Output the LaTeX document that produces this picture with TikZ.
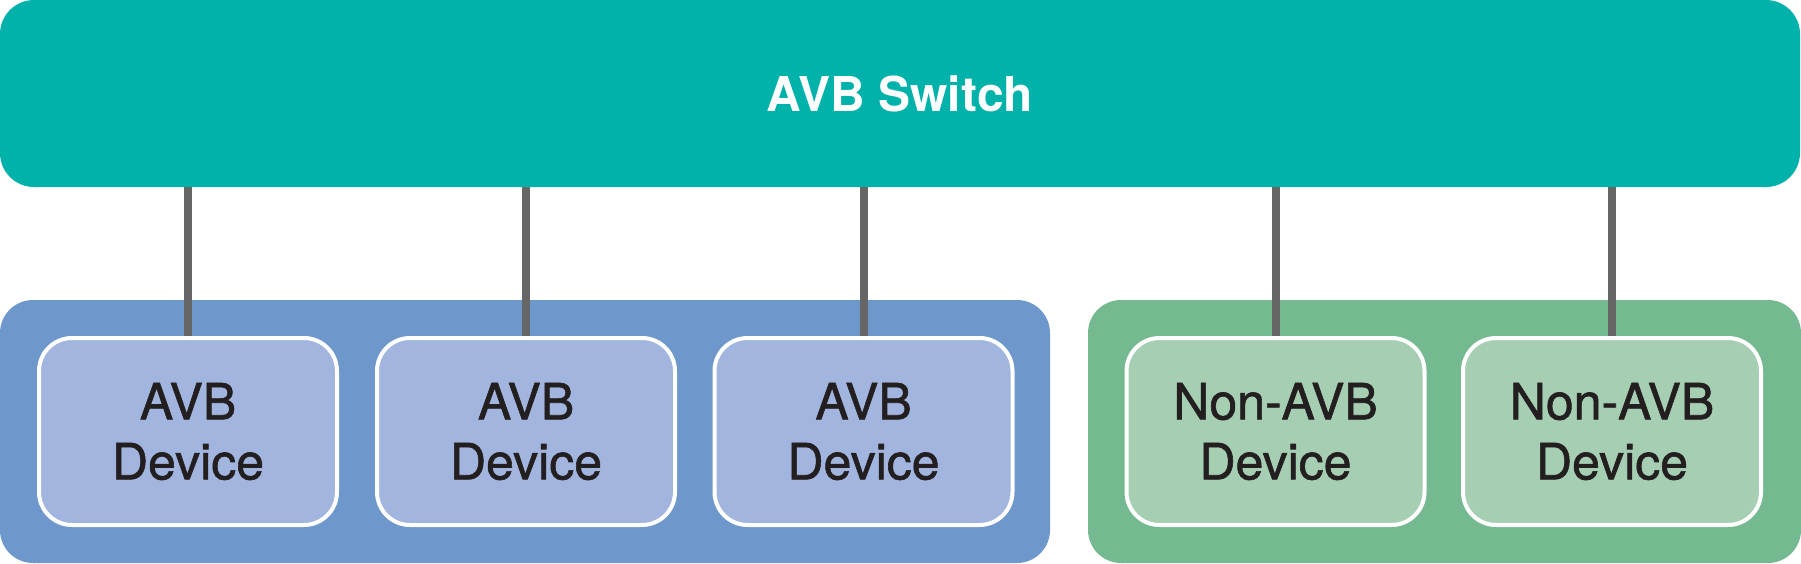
\documentclass[tikz,border=0pt]{standalone}
\usepackage{fontspec}
\setmainfont{TeX Gyre Heros}
\newfontfamily\devfont{TeX Gyre Heros}[FakeBold=1.2]
\definecolor{switchteal}{HTML}{00B2A9}
\definecolor{avbgroup}{HTML}{6E97CC}
\definecolor{avbdev}{HTML}{A2B5DE}
\definecolor{nonavbgroup}{HTML}{75B991}
\definecolor{nonavbdev}{HTML}{A6CEB3}
\definecolor{linkgray}{HTML}{666666}
\definecolor{textdark}{HTML}{231F20}

\begin{document}
\begin{tikzpicture}[x=0.5pt,y=-0.5pt,
    switchbox/.style={fill=switchteal, rounded corners=17pt, inner sep=0pt, outer sep=0pt,
        minimum width=900pt, minimum height=93.5pt, text=white,
        font=\fontsize{24pt}{30pt}\selectfont\bfseries},
    groupbox/.style={rounded corners=16.5pt, inner sep=0pt, outer sep=0pt, minimum height=131.5pt},
    devbox/.style={draw=white, line width=2pt, rounded corners=16.5pt, inner sep=0pt,
        minimum width=149pt, minimum height=93.5pt, align=center, text=textdark,
        font=\devfont\fontsize{25pt}{30pt}\selectfont},
    link/.style={draw=linkgray, line width=4pt}]
\useasboundingbox (0,0) rectangle (1801,563);

%draw switch on top
    \node[switchbox] (switch) at (900,93.5) {AVB Switch};

%draw the two groups
    \node[groupbox, fill=avbgroup, minimum width=525pt] (avbgroup) at (525,431.5) {};
    \node[groupbox, fill=nonavbgroup, minimum width=356.5pt] (nonavbgroup) at (1444.5,431.5) {};

%draw devices
    \foreach \n/\x in {1/188,2/526,3/863.5}
    \node[devbox, fill=avbdev] (avb\n) at (\x,431.5) {AVB\\Device};
    \foreach \n/\x in {1/1275.5,2/1612}
    \node[devbox, fill=nonavbdev] (nonavb\n) at (\x,431.5) {Non-AVB\\Device};

%draw links up to the switch
    \foreach \d in {avb1,avb2,avb3,nonavb1,nonavb2}
    \draw[link] (\d.north) -- (\d.north |- switch.south);

\end{tikzpicture}
\end{document}
